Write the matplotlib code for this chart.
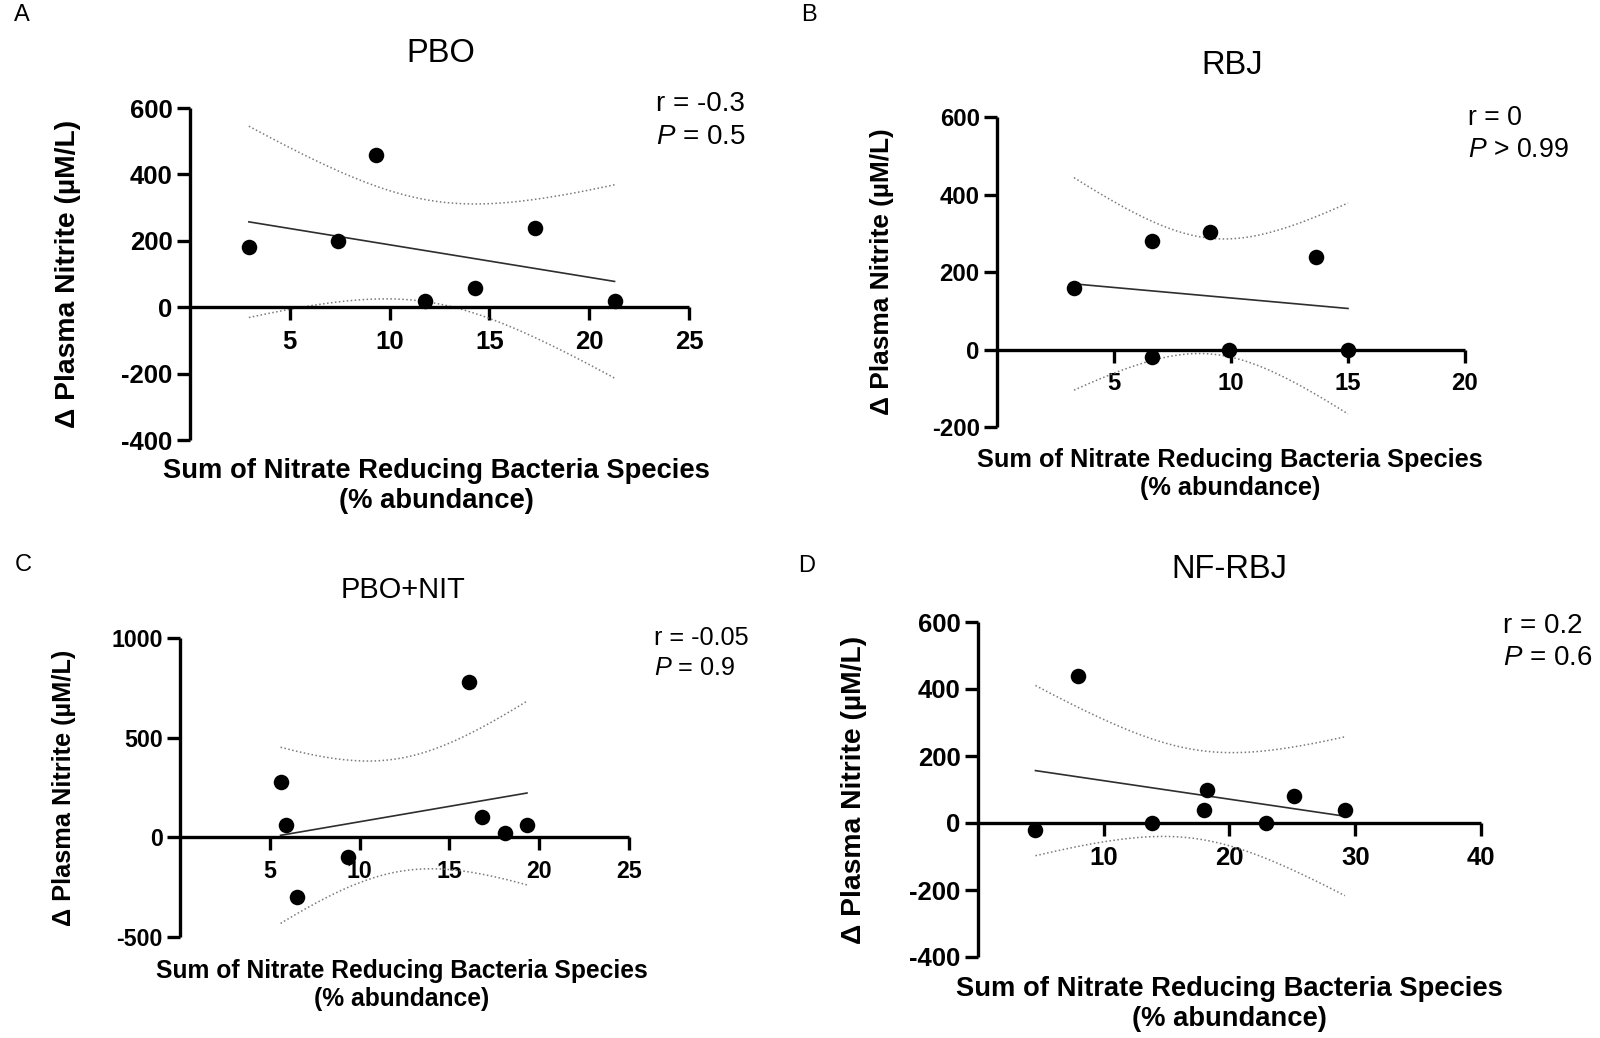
import numpy as np
import matplotlib
matplotlib.use("Agg")
import matplotlib.pyplot as plt

plt.rcParams['font.family'] = ['Liberation Sans', 'DejaVu Sans']
plt.rcParams['mathtext.fontset'] = 'custom'
plt.rcParams['mathtext.rm'] = 'Liberation Sans'
plt.rcParams['mathtext.it'] = 'Liberation Sans:italic'
plt.rcParams['axes.unicode_minus'] = False

W, H = 1600, 1038

# --- data ---
pbo_x = [2.95, 7.40, 9.33, 11.77, 14.29, 17.29, 21.27]
pbo_y = [180, 200, 459, 20, 58, 239, 20]

rbj_x = [3.29, 6.64, 6.64, 9.09, 9.92, 13.65, 15.0]
rbj_y = [160, 280, -20, 302, 0, 240, 0]

nit_x = [5.60, 5.91, 6.53, 9.38, 16.11, 16.82, 18.10, 19.32]
nit_y = [280, 60, -300, -100, 780, 100, 20, 60]

nf_x = [4.57, 7.96, 13.80, 17.96, 18.24, 22.94, 25.14, 29.18]
nf_y = [-20, 440, 0, 40, 100, 0, 80, 40]

titles = ["PBO", "RBJ", "PBO+NIT", "NF-RBJ"]
letters = ["A", "B", "C", "D"]
r_text = ["r = -0.3", "r = 0", "r = -0.05", "r = 0.2"]
p_text = [r"$\mathit{P}$ = 0.5", r"$\mathit{P}$ > 0.99", r"$\mathit{P}$ = 0.9", r"$\mathit{P}$ = 0.6"]
x_ticks = [[5, 10, 15, 20, 25], [5, 10, 15, 20], [5, 10, 15, 20, 25], [10, 20, 30, 40]]
y_ticks = [[-400, -200, 0, 200, 400, 600], [-200, 0, 200, 400, 600],
           [-500, 0, 500, 1000], [-400, -200, 0, 200, 400, 600]]

XLABEL = "Sum of Nitrate Reducing Bacteria Species\n(% abundance)"
YLABEL = "\u0394 Plasma Nitrite (\u00b5M/L)"

# t(0.975, df) for the 95% band
T975 = {5: 2.5706, 6: 2.4469}

# layout in pixels: axes box (left, top, right, bottom) and text anchors
panels = [
    dict(box=(190, 108, 689, 440), scale=1.0, tscale=1.0, sscale=1.0,
         title=(441, 54), stats=(656, 104, 137), xl=(436, 486), yl=(68, 274), letter=(14, 15)),
    dict(box=(997, 117, 1465, 427), scale=0.93, tscale=1.0, sscale=0.96,
         title=(1232, 66), stats=(1468, 118, 150), xl=(1230, 474), yl=(882, 272), letter=(801, 15)),
    dict(box=(180, 638, 629, 937), scale=0.9, tscale=0.89, sscale=0.91,
         title=(403, 590), stats=(654, 638, 668), xl=(402, 985), yl=(64, 788), letter=(15, 565)),
    dict(box=(978, 622, 1481, 957), scale=1.0, tscale=1.0, sscale=1.0,
         title=(1229, 570), stats=(1503, 626, 658), xl=(1229, 1004), yl=(854, 790), letter=(798, 566)),
]
series = [(pbo_x, pbo_y), (rbj_x, rbj_y), (nit_x, nit_y), (nf_x, nf_y)]


def fx(px):
    return px / W


def fy(py):
    return 1 - py / H


def fit_band(x, y):
    x = np.asarray(x, float)
    y = np.asarray(y, float)
    n = len(x)
    slope, icpt = np.polyfit(x, y, 1)
    resid = y - (slope * x + icpt)
    s = np.sqrt(np.sum(resid ** 2) / (n - 2))
    xm = x.mean()
    sxx = np.sum((x - xm) ** 2)
    xs = np.linspace(x.min(), x.max(), 200)
    ys = slope * xs + icpt
    hw = T975[n - 2] * s * np.sqrt(1 / n + (xs - xm) ** 2 / sxx)
    return xs, ys, ys - hw, ys + hw


fig = plt.figure(figsize=(W / 100, H / 100), dpi=100)

for i, p in enumerate(panels):
    l, t, r, b = p["box"]
    k = p["scale"]
    ax = fig.add_axes([fx(l), fy(b), (r - l) / W, (b - t) / H])
    x, y = series[i]

    xs, ys, lo, hi = fit_band(x, y)
    ax.plot(xs, ys, color='#2e2e2e', lw=1.2, zorder=2)
    ax.plot(xs, lo, color='#7a7a7a', lw=1.1, ls=(0, (1, 1.6)), zorder=2)
    ax.plot(xs, hi, color='#7a7a7a', lw=1.1, ls=(0, (1, 1.6)), zorder=2)
    ax.scatter(x, y, s=125, color='black', zorder=4, clip_on=False, linewidths=0)

    ax.set_xlim(0, x_ticks[i][-1])
    ax.set_ylim(y_ticks[i][0], y_ticks[i][-1])
    ax.set_xticks(x_ticks[i])
    ax.set_yticks(y_ticks[i])

    ax.spines['top'].set_visible(False)
    ax.spines['right'].set_visible(False)
    ax.spines['bottom'].set_position(('data', 0))
    for sp in ('left', 'bottom'):
        ax.spines[sp].set_linewidth(2.4)
        ax.spines[sp].set_capstyle('butt')
    ax.tick_params(axis='both', width=2.4, length=9.5, colors='black')
    ax.tick_params(axis='x', pad=7)
    ax.tick_params(axis='y', pad=3)
    for lab in ax.get_xticklabels() + ax.get_yticklabels():
        lab.set_fontsize(18.5 * k)
        lab.set_fontweight('bold')

    fig.text(fx(p["title"][0]), fy(p["title"][1]), titles[i], fontsize=23.5 * p["tscale"],
             ha='center', va='center')
    fig.text(fx(p["letter"][0]), fy(p["letter"][1]), letters[i], fontsize=17,
             ha='left', va='center')
    sx, sy1, sy2 = p["stats"]
    fig.text(fx(sx), fy(sy1), r_text[i], fontsize=20 * p["sscale"], ha='left', va='center')
    fig.text(fx(sx), fy(sy2), p_text[i], fontsize=20 * p["sscale"], ha='left', va='center')
    fig.text(fx(p["xl"][0]), fy(p["xl"][1]), XLABEL, fontsize=19.7 * k, fontweight='bold',
             ha='center', va='center', linespacing=1.2)
    fig.text(fx(p["yl"][0]), fy(p["yl"][1]), YLABEL, fontsize=20.3 * k, fontweight='bold',
             ha='center', va='center', rotation=90)

fig.savefig("out.png", dpi=100)
